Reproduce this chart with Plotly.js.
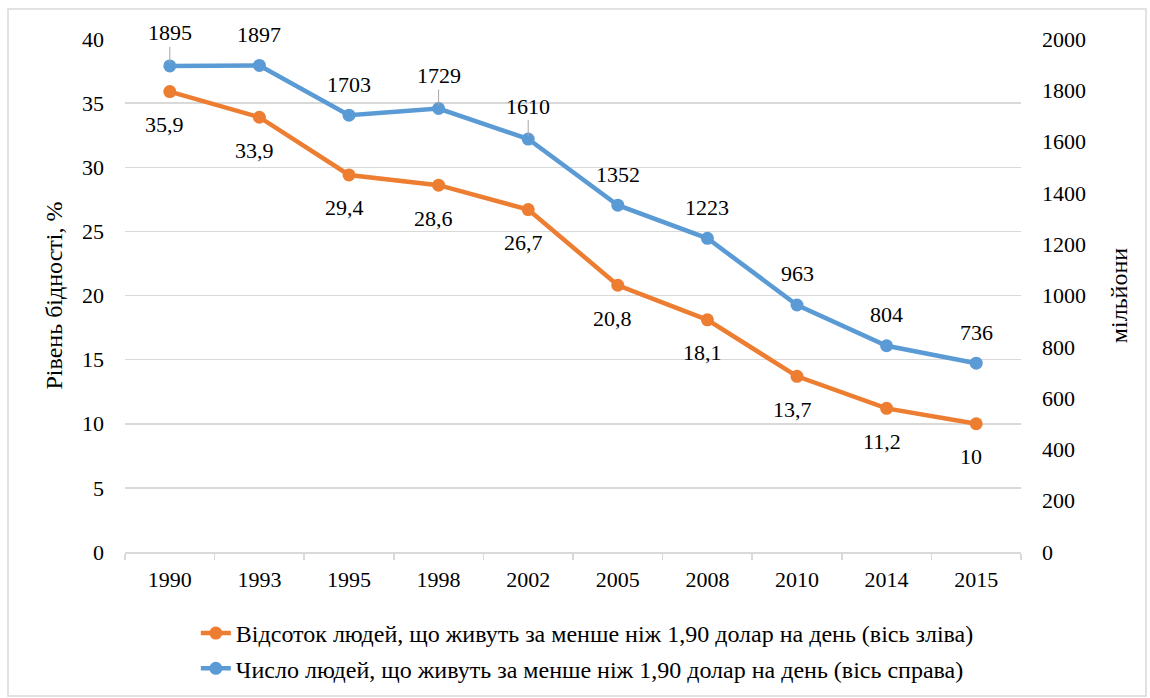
<!DOCTYPE html>
<html>
<head>
<meta charset="utf-8">
<script src="https://cdn.plot.ly/plotly-3.0.1.min.js"></script>
<style>
  html, body { margin: 0; padding: 0; background: #fff; }
  #chart { width: 1150px; height: 698px; }
</style>
</head>
<body>
<div id="chart"></div>
<script>
const years = ['1990', '1993', '1995', '1998', '2002', '2005', '2008', '2010', '2014', '2015'];
const povertyRate = [35.9, 33.9, 29.4, 28.6, 26.7, 20.8, 18.1, 13.7, 11.2, 10];
const povertyMillions = [1895, 1897, 1703, 1729, 1610, 1352, 1223, 963, 804, 736];
const rateName = 'Відсоток людей, що живуть за менше ніж 1,90 долар на день (вісь зліва)';
const millionsName = 'Число людей, що живуть за менше ніж 1,90 долар на день (вісь справа)';
const leftTitle = 'Рівень бідності, %';
const rightTitle = 'мільйони';
const leaderYears = ['1990', '1998', '2002'];

const FONT = 'Liberation Serif, Times New Roman, serif';
const ORANGE = '#ED7D31';
const BLUE = '#5B9BD5';
const GRID = '#d9d9d9';

const traces = [
  {
    x: years, y: povertyRate, name: rateName, type: 'scatter', mode: 'lines+markers',
    line: { color: ORANGE, width: 4.5 }, marker: { color: ORANGE, size: 13 },
    yaxis: 'y', legendgroup: 'a', hoverinfo: 'x+y'
  },
  {
    x: years, y: povertyMillions, name: millionsName, type: 'scatter', mode: 'lines+markers',
    line: { color: BLUE, width: 4.5 }, marker: { color: BLUE, size: 13 },
    yaxis: 'y2', legendgroup: 'b', hoverinfo: 'x+y'
  }
];

const annotations = [];
years.forEach((yr, i) => {
  annotations.push({
    x: i, y: povertyRate[i], xref: 'x', yref: 'y',
    text: String(povertyRate[i]).replace('.', ','),
    showarrow: false, yshift: -33, xshift: -5,
    font: { family: FONT, size: 22, color: '#000' }
  });
  const lead = leaderYears.includes(yr);
  if (lead) {
    annotations.push({
      x: i, y: povertyMillions[i], xref: 'x', yref: 'y2',
      text: String(povertyMillions[i]),
      showarrow: true, arrowhead: 0, arrowwidth: 1, arrowcolor: '#a6a6a6',
      ax: 0, ay: -33, standoff: 3,
      font: { family: FONT, size: 22, color: '#000' }
    });
  } else {
    annotations.push({
      x: i, y: povertyMillions[i], xref: 'x', yref: 'y2',
      text: String(povertyMillions[i]),
      showarrow: false, yshift: 31,
      font: { family: FONT, size: 22, color: '#000' }
    });
  }
});

const layout = {
  width: 1150, height: 698,
  paper_bgcolor: '#fff', plot_bgcolor: '#fff',
  margin: { l: 125, r: 129, t: 39, b: 146, pad: 0, autoexpand: false },
  font: { family: FONT, size: 22, color: '#000' },
  showlegend: true,
  legend: {
    orientation: 'v', x: 0.516, xanchor: 'center', y: -0.115, yanchor: 'top',
    font: { family: FONT, size: 24, color: '#000' },
    tracegroupgap: 1, bgcolor: 'rgba(0,0,0,0)'
  },
  xaxis: {
    type: 'category', range: [-0.5, 9.5], autorange: false, automargin: false,
    showgrid: false, zeroline: false,
    showline: true, linecolor: GRID, linewidth: 1.5,
    ticks: 'outside', tickson: 'boundaries', ticklen: 6, tickcolor: GRID, tickwidth: 1.5,
    ticklabelstandoff: 7,
    tickfont: { family: FONT, size: 22, color: '#000' }
  },
  yaxis: {
    range: [0, 40], autorange: false, automargin: false, dtick: 5, tick0: 0,
    showgrid: true, gridcolor: GRID, gridwidth: 1.5,
    zeroline: false, showline: false, ticks: '',
    ticklabelstandoff: 20,
    tickfont: { family: FONT, size: 22, color: '#000' },
    title: { text: leftTitle, font: { family: FONT, size: 24, color: '#000' }, standoff: 12 }
  },
  yaxis2: {
    range: [0, 2000], autorange: false, automargin: false, dtick: 200, tick0: 0, overlaying: 'y', side: 'right',
    showgrid: false, zeroline: false, showline: false, ticks: '',
    ticklabelstandoff: 20,
    tickfont: { family: FONT, size: 22, color: '#000' },
    title: { text: rightTitle, font: { family: FONT, size: 24, color: '#000' }, standoff: 25 }
  },
  annotations: annotations,
  shapes: [{
    type: 'rect', xref: 'paper', yref: 'paper',
    x0: (8 - 125) / 896, x1: (1146 - 125) / 896,
    y0: -(696 - 552) / 513, y1: 1 + (39 - 9) / 513,
    line: { color: GRID, width: 1.5 }, fillcolor: 'rgba(0,0,0,0)', layer: 'below'
  }]
};

Plotly.newPlot('chart', traces, layout, { displayModeBar: false, staticPlot: true });
</script>
</body>
</html>
